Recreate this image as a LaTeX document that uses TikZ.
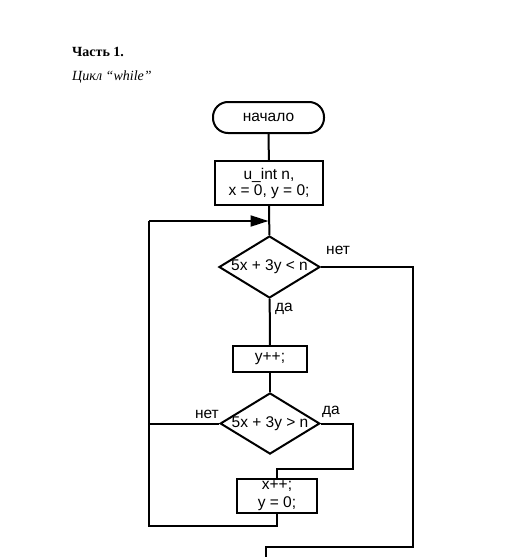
\documentclass[tikz,border=0pt]{standalone}
\usepackage{fontspec}
\setmainfont{Liberation Serif}
\newfontfamily\flowfont{Liberation Sans}
\usetikzlibrary{shapes.geometric,arrows.meta}
\begin{document}
\begin{tikzpicture}[x=1pt,y=-1pt,
  conn/.style={line width=2pt},
  box/.style={draw,line width=2pt,rectangle,inner sep=0pt,font=\flowfont\fontsize{15.5}{16}\selectfont,align=center},
  term/.style={box,rounded corners=15pt},
  dec/.style={draw,line width=2pt,diamond,inner sep=0pt,shape aspect=1.63,font=\flowfont\fontsize{15.5}{16}\selectfont},
  lab/.style={font=\flowfont\fontsize{15.5}{16}\selectfont,inner sep=0pt}]
\useasboundingbox (0,0) rectangle (513,557);
\node[anchor=base west,inner sep=0pt,font=\bfseries\fontsize{14}{15}\selectfont] (title) at (72,56) {Часть 1.};
\node[anchor=base west,inner sep=0pt,font=\itshape\fontsize{14}{15}\selectfont] (sub) at (72,80) {Цикл “while”};

\node[term,minimum width=111pt,minimum height=31pt] (start) at (268.5,117.5) {начало};
\node[box,minimum width=108pt,minimum height=44pt] (init) at (269,183) {u\_int n,\\x = 0, y = 0;};
\node[dec,minimum width=101pt,minimum height=62pt] (d1) at (269.5,267) {5x + 3y < n};
\node[box,minimum width=74pt,minimum height=26pt] (inc) at (270,359) {y++;};
\node[dec,minimum width=98pt,minimum height=59pt] (d2) at (270,423.5) {5x + 3y > n};
\node[box,minimum width=80pt,minimum height=34pt,font=\flowfont\fontsize{15.5}{18}\selectfont] (b3) at (277,496) {x++;\\y = 0;};

\coordinate (join) at (268.5,221);
\coordinate (lt) at (149,221);
\coordinate (lb) at (149,526);
\coordinate (lm) at (149,423.5);
\coordinate (b3b) at (277,526);
\coordinate (r1) at (353,423.5);
\coordinate (r2) at (353,469);
\coordinate (r3) at (277,469);
\coordinate (e1) at (413,267);
\coordinate (e2) at (413,547);
\coordinate (e3) at (266,547);
\coordinate (e4) at (266,557);

\draw[conn] (start) -- (init);
\draw[conn] (init) -- (d1);
\draw[conn] (d1) -- (inc);
\draw[conn] (inc) -- (d2);
\draw[conn] (d2.west) -- (lm);
\draw[conn] (d2.east) -- (r1) -- (r2) -- (r3) -- (b3.north);
\draw[conn] (b3.south) -- (b3b) -- (lb) -- (lt);
\draw[conn,-{Triangle[length=18pt,width=11pt]}] (lt) -- (join);
\draw[conn] (d1.east) -- (e1) -- (e2) -- (e3) -- (e4);

\node[lab,anchor=west] (l1) at (326,250) {нет};
\node[lab,anchor=west] (l2) at (275,309) {да};
\node[lab,anchor=east] (l3) at (219,414) {нет};
\node[lab,anchor=west] (l4) at (322,412) {да};
\end{tikzpicture}
\end{document}
